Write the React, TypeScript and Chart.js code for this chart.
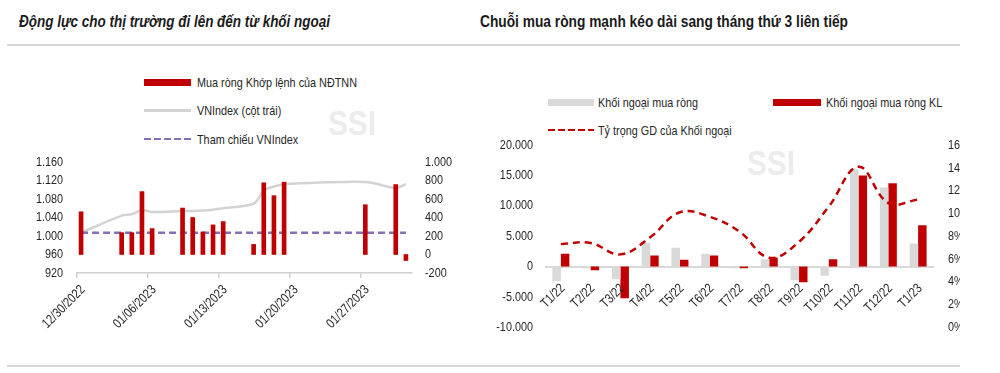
import React, { useEffect, useRef } from 'react';
import { Chart, registerables } from 'chart.js';

Chart.register(...registerables);

// ===== Left panel data =====
const leftTitle = 'Động lực cho thị trường đi lên đến từ khối ngoại';
const tradingDates = [
  '2022-12-30', '2023-01-03', '2023-01-04', '2023-01-05', '2023-01-06',
  '2023-01-09', '2023-01-10', '2023-01-11', '2023-01-12', '2023-01-13',
  '2023-01-16', '2023-01-17', '2023-01-18', '2023-01-19',
  '2023-01-27', '2023-01-30', '2023-01-31',
];
const foreignNetMatched = [462, 236, 236, 680, 280, 502, 400, 244, 320, 356, 109, 775, 636, 782, 538, 756, -65];
const vnIndex = [1007, 1044, 1047, 1056, 1052, 1054, 1054, 1055, 1057, 1060, 1070, 1098, 1107, 1112, 1117, 1104, 1112];
const vnIndexReference = 1007;
const leftAxisStart = '2022-12-30';
const leftAxisEnd = '2023-02-01';
const leftTickDates = ['2022-12-30', '2023-01-06', '2023-01-13', '2023-01-20', '2023-01-27'];
const leftTickLabels = ['12/30/2022', '01/06/2023', '01/13/2023', '01/20/2023', '01/27/2023'];
const leftLegendLabels = ['Mua ròng Khớp lệnh của NĐTNN', 'VNIndex (cột trái)', 'Tham chiếu VNIndex'];
const leftIndexMin = 920;
const leftIndexMax = 1160;
const leftIndexStep = 40;
const leftFlowMin = -200;
const leftFlowMax = 1000;
const leftFlowStep = 200;

// ===== Right panel data =====
const rightTitle = 'Chuỗi mua ròng mạnh kéo dài sang tháng thứ 3 liên tiếp';
const months = ['T1/22', 'T2/22', 'T3/22', 'T4/22', 'T5/22', 'T6/22', 'T7/22', 'T8/22', 'T9/22', 'T10/22', 'T11/22', 'T12/22', 'T1/23'];
const netBuyValue = [-2400, -300, -2100, 3900, 3100, 2100, -300, 1200, -2200, -1500, 16000, 13000, 3800];
const netBuyVolume = [2100, -600, -5200, 1800, 1100, 1800, -300, 1500, -2600, 1200, 15000, 13700, 6800];
const foreignShare = [7.3, 7.4, 6.4, 7.9, 10.1, 9.7, 8.4, 6.1, 7.5, 10.6, 14.1, 10.9, 11.2];
const rightLegendLabels = ['Khối ngoại mua ròng', 'Khối ngoại mua ròng KL', 'Tỷ trọng GD của Khối ngoại'];
const rightValueMin = -10000;
const rightValueMax = 20000;
const rightValueStep = 5000;
const rightShareMin = 0;
const rightShareMax = 16;
const rightShareStep = 2;
const watermark = 'SSI';

// ===== font helpers =====
const mctx = typeof document !== 'undefined' ? document.createElement('canvas').getContext('2d') : null;
function textWidth(text: string, font: string) {
  if (!mctx) return text.length * 6;
  mctx.font = font;
  return mctx.measureText(text).width;
}
const HTML_FAMILY = '"Liberation Sans", Arial, sans-serif';
const LEGEND_SIZE = 13.5;
const LABEL_SIZE = 13.5;
const narrowScale = 160 / textWidth(leftLegendLabels[0], `${LEGEND_SIZE}px ${HTML_FAMILY}`);
const leftTitleScale = 311 / textWidth(leftTitle, `italic bold 16px ${HTML_FAMILY}`);
const rightTitleScale = 368 / textWidth(rightTitle, `bold 16px ${HTML_FAMILY}`);
const markScale = 48 / textWidth(watermark, `bold 35px ${HTML_FAMILY}`);

const fmt = (v: number) => Number(v).toLocaleString('de-DE');
const dayOf = (s: string) => (Date.parse(s + 'T00:00:00Z') - Date.parse(leftAxisStart + 'T00:00:00Z')) / 86400000;

const RED = '#c00000';
const GREY_BAR = '#d9d9d9';
const VN_LINE = '#d3d3d3';
const PURPLE = '#8470b4';
const TEXT = '#262626';
const HIDDEN = 'rgba(0,0,0,0)';

// Draws the scales' own label items with a horizontally condensed face (Arial Narrow look)
const narrowLabels = {
  id: 'narrowLabels',
  afterDraw(chart: any) {
    const ctx = chart.ctx;
    Object.values(chart.scales).forEach((sc: any) => {
      const items = sc.getLabelItems();
      items.forEach((it: any) => {
        const o = it.options;
        ctx.save();
        ctx.font = `${LABEL_SIZE}px ${HTML_FAMILY}`;
        ctx.fillStyle = TEXT;
        ctx.translate(o.translation[0], o.translation[1]);
        if (o.rotation) ctx.rotate(o.rotation);
        ctx.scale(narrowScale, 1);
        ctx.textAlign = o.textAlign;
        ctx.textBaseline = o.textBaseline;
        ctx.fillText(String(it.label), 0, it.textOffset);
        ctx.restore();
      });
    });
  },
};

const noPad = (ax: any) => { ax.paddingLeft = 0; ax.paddingRight = 0; ax.paddingTop = 0; ax.paddingBottom = 0; };

function Label(props: { x: number; cy: number; text: string; size: number; weight?: string; italic?: boolean; color?: string; scale?: number }) {
  const { x, cy, text, size, weight = 'normal', italic = false, color = TEXT, scale = 1 } = props;
  return (
    <div
      style={{
        position: 'absolute', left: x, top: cy - size, height: size * 2, lineHeight: `${size * 2}px`,
        fontSize: size, fontWeight: weight as any, fontStyle: italic ? 'italic' : 'normal', fontFamily: HTML_FAMILY,
        color, whiteSpace: 'nowrap', transform: `scaleX(${scale})`, transformOrigin: 'left center',
      }}
    >
      {text}
    </div>
  );
}

function Swatch(props: { x: number; cy: number; w: number; kind: 'rect' | 'line' | 'dash'; color: string }) {
  const { x, cy, w, kind, color } = props;
  if (kind === 'rect') return <div style={{ position: 'absolute', left: x, top: cy - 3.5, width: w, height: 7, background: color }} />;
  if (kind === 'line') return <div style={{ position: 'absolute', left: x, top: cy - 1.25, width: w, height: 2.5, background: color }} />;
  return (
    <div
      style={{
        position: 'absolute', left: x, top: cy - 1.25, width: w, height: 2.5,
        background: `repeating-linear-gradient(90deg, ${color} 0 7px, transparent 7px 10px)`,
      }}
    />
  );
}

export default function App() {
  const leftRef = useRef<HTMLCanvasElement>(null);
  const rightRef = useRef<HTMLCanvasElement>(null);

  useEffect(() => {
    const font = { family: HTML_FAMILY, size: LABEL_SIZE };
    const BAR_SHIFT = 0.4;
    const barPts = tradingDates.map((d, i) => ({ x: dayOf(d) + BAR_SHIFT, y: foreignNetMatched[i] }));
    const vnPts = tradingDates.map((d, i) => ({ x: dayOf(d) + BAR_SHIFT, y: vnIndex[i] }));
    const refPts = [tradingDates[0], tradingDates[tradingDates.length - 1]].map((d) => ({ x: dayOf(d) + BAR_SHIFT, y: vnIndexReference }));

    const left = new Chart(leftRef.current as HTMLCanvasElement, {
      type: 'bar',
      data: {
        datasets: [
          { type: 'bar', label: leftLegendLabels[0], data: barPts, yAxisID: 'y1', backgroundColor: RED, barThickness: 4, order: 0 } as any,
          { type: 'line', label: leftLegendLabels[1], data: vnPts, yAxisID: 'y', borderColor: VN_LINE, borderWidth: 2.5, pointRadius: 0, tension: 0.3, order: 2 } as any,
          { type: 'line', label: leftLegendLabels[2], data: refPts, yAxisID: 'y', borderColor: PURPLE, borderWidth: 2.5, borderDash: [7, 4], pointRadius: 0, order: 1 } as any,
        ],
      },
      plugins: [narrowLabels],
      options: {
        responsive: false,
        animation: false,
        maintainAspectRatio: false,
        layout: { padding: { top: 162, left: 0, right: 0, bottom: 0 } },
        plugins: { legend: { display: false }, tooltip: { enabled: false } },
        scales: {
          x: {
            type: 'linear',
            offset: false,
            min: 0,
            max: dayOf(leftAxisEnd),
            afterBuildTicks: (ax: any) => { ax.ticks = leftTickDates.map((d) => ({ value: dayOf(d) })); },
            afterFit: (ax: any) => { ax.height = 100; noPad(ax); },
            ticks: {
              autoSkip: false, minRotation: 45, maxRotation: 45, padding: 4, labelOffset: 6,
              font, color: HIDDEN,
              callback: (_v: any, i: number) => leftTickLabels[i],
            },
            grid: { display: true, offset: false, drawOnChartArea: false, drawTicks: true, tickLength: 5, color: '#d0d0d0', lineWidth: 1.5 },
            border: { display: true, color: '#d0d0d0', width: 1.5 },
          },
          y: {
            position: 'left', min: leftIndexMin, max: leftIndexMax,
            afterFit: (ax: any) => { ax.width = 77; noPad(ax); },
            ticks: { autoSkip: false, stepSize: leftIndexStep, padding: 14, font, color: HIDDEN, callback: (v: any) => fmt(v) },
            grid: { display: false, drawTicks: false },
            border: { display: false },
          },
          y1: {
            position: 'right', min: leftFlowMin, max: leftFlowMax,
            afterFit: (ax: any) => { ax.width = 68; noPad(ax); },
            ticks: { autoSkip: false, stepSize: leftFlowStep, padding: 13, font, color: HIDDEN, callback: (v: any) => fmt(v) },
            grid: { display: false, drawTicks: false },
            border: { display: false },
          },
        },
      } as any,
    });

    const right = new Chart(rightRef.current as HTMLCanvasElement, {
      type: 'bar',
      data: {
        labels: months,
        datasets: [
          { type: 'line', label: rightLegendLabels[2], data: foreignShare, yAxisID: 'y1', borderColor: RED, borderWidth: 2.5, borderDash: [7, 5], pointRadius: 0, tension: 0.4, order: 0 } as any,
          { type: 'bar', label: rightLegendLabels[0], data: netBuyValue, yAxisID: 'y', backgroundColor: GREY_BAR, categoryPercentage: 0.57, barPercentage: 1, order: 1 } as any,
          { type: 'bar', label: rightLegendLabels[1], data: netBuyVolume, yAxisID: 'y', backgroundColor: RED, categoryPercentage: 0.57, barPercentage: 1, order: 1 } as any,
        ],
      },
      plugins: [narrowLabels],
      options: {
        responsive: false,
        animation: false,
        maintainAspectRatio: false,
        layout: { padding: { top: 145, left: 0, right: 0, bottom: 45.7 } },
        plugins: { legend: { display: false }, tooltip: { enabled: false } },
        scales: {
          x: {
            type: 'category',
            position: { y: 0 },
            offset: true,
            afterFit: (ax: any) => { noPad(ax); },
            ticks: { autoSkip: false, minRotation: 45, maxRotation: 45, padding: 14, labelOffset: 2, font, color: HIDDEN },
            grid: { display: false, drawTicks: false },
            border: { display: true, color: '#d9d9d9', width: 2 },
          },
          y: {
            position: 'left', min: rightValueMin, max: rightValueMax,
            afterFit: (ax: any) => { ax.width = 66; noPad(ax); },
            ticks: { autoSkip: false, stepSize: rightValueStep, padding: 13, font, color: HIDDEN, callback: (v: any) => fmt(v) },
            grid: { display: false, drawTicks: false },
            border: { display: false },
          },
          y1: {
            position: 'right', min: rightShareMin, max: rightShareMax,
            afterFit: (ax: any) => { ax.width = 47; noPad(ax); },
            ticks: { autoSkip: false, stepSize: rightShareStep, padding: 15, font, color: HIDDEN, callback: (v: any) => `${v}%` },
            grid: { display: false, drawTicks: false },
            border: { display: false },
          },
        },
      } as any,
    });

    return () => { left.destroy(); right.destroy(); };
  }, []);

  return (
    <div style={{ position: 'absolute', left: 0, top: 0, width: 1000, height: 373, background: '#fff', overflow: 'hidden' }}>
      <Label x={19} cy={22} text={leftTitle} size={16} weight="bold" italic color="#1a1a1a" scale={leftTitleScale} />
      <Label x={480} cy={22} text={rightTitle} size={16} weight="bold" color="#1a1a1a" scale={rightTitleScale} />
      <div style={{ position: 'absolute', left: 7, top: 44, width: 953, height: 2, background: '#d6d6d6' }} />
      <div style={{ position: 'absolute', left: 7, top: 365, width: 953, height: 2, background: '#d6d6d6' }} />

      <Label x={328} cy={123} text={watermark} size={35} weight="bold" color="#ececec" scale={markScale} />
      <Label x={747} cy={163} text={watermark} size={35} weight="bold" color="#ececec" scale={markScale} />

      <Swatch x={144} cy={82.7} w={47} kind="rect" color={RED} />
      <Label x={196.7} cy={82.7} text={leftLegendLabels[0]} size={LEGEND_SIZE} scale={narrowScale} />
      <Swatch x={144} cy={110.7} w={47} kind="line" color={VN_LINE} />
      <Label x={196.7} cy={110.7} text={leftLegendLabels[1]} size={LEGEND_SIZE} scale={narrowScale} />
      <Swatch x={144} cy={139} w={47} kind="dash" color={PURPLE} />
      <Label x={196.7} cy={139} text={leftLegendLabels[2]} size={LEGEND_SIZE} scale={narrowScale} />

      <Swatch x={548} cy={102.7} w={46} kind="rect" color={GREY_BAR} />
      <Label x={598} cy={102.7} text={rightLegendLabels[0]} size={LEGEND_SIZE} scale={narrowScale} />
      <Swatch x={773} cy={102.7} w={48} kind="rect" color={RED} />
      <Label x={826} cy={102.7} text={rightLegendLabels[1]} size={LEGEND_SIZE} scale={narrowScale} />
      <Swatch x={548} cy={130} w={46} kind="dash" color={RED} />
      <Label x={598} cy={130} text={rightLegendLabels[2]} size={LEGEND_SIZE} scale={narrowScale} />

      <canvas ref={leftRef} width={480} height={373} style={{ position: 'absolute', left: 0, top: 0, width: 480, height: 373 }} />
      <div style={{ position: 'absolute', left: 480, top: 0, width: 480, height: 373, overflow: 'hidden' }}>
        <canvas ref={rightRef} width={500} height={373} style={{ position: 'absolute', left: 0, top: 0, width: 500, height: 373 }} />
      </div>
    </div>
  );
}
